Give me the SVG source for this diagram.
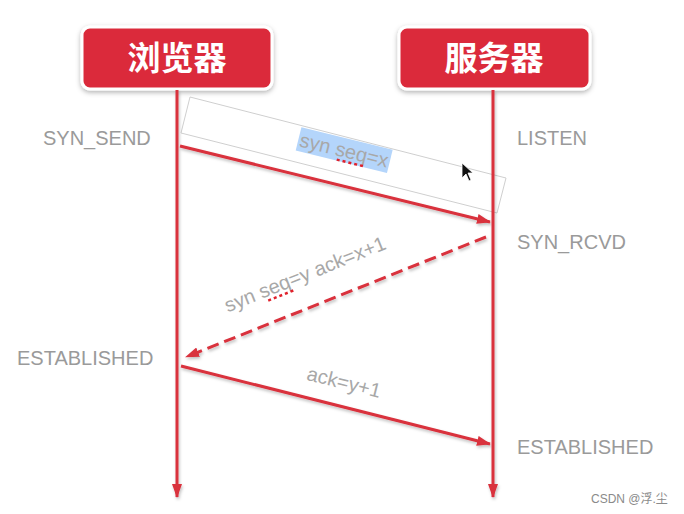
<svg xmlns="http://www.w3.org/2000/svg" width="684" height="514" viewBox="0 0 684 514">
<defs>
  <marker id="ah" viewBox="0 0 14 10" refX="13" refY="5" markerWidth="14" markerHeight="10" markerUnits="userSpaceOnUse" orient="auto">
    <path d="M0,0 L14,5 L0,10 Z" fill="#d9303c"/>
  </marker>
  <filter id="sh" filterUnits="userSpaceOnUse" x="0" y="0" width="684" height="514">
    <feDropShadow dx="1" dy="2" stdDeviation="1.5" flood-color="#000" flood-opacity="0.25"/>
  </filter>
  <filter id="bsh" x="-10%" y="-20%" width="120%" height="150%">
    <feDropShadow dx="0" dy="2" stdDeviation="2.5" flood-color="#000" flood-opacity="0.3"/>
  </filter>
</defs>
<style>
  .box { fill: #db2c3b; stroke: #ffffff; stroke-width: 3; }
  .title { font-family: "Noto Sans CJK SC", "Liberation Sans", sans-serif; font-size: 33px; font-weight: bold; fill: #ffffff; text-anchor: middle; }
  .life { stroke: #d9303c; stroke-width: 3; fill: none; }
  .msg { stroke: #d9303c; stroke-width: 3; fill: none; }
  .dash { stroke-dasharray: 12 6; }
  .state { font-family: "Liberation Sans", Arial, sans-serif; font-size: 20px; fill: #9a9a9a; }
  .lbl { font-family: "Liberation Sans", Arial, sans-serif; font-size: 20px; fill: #a8a8a8; text-anchor: middle; }
  .sq { stroke: #e0202a; stroke-width: 2.5; stroke-dasharray: 3 3; }
  .wm { font-family: "Liberation Sans", "Noto Sans CJK SC", sans-serif; font-size: 12px; fill: #8a8a8a; }
</style>
<rect width="684" height="514" fill="#ffffff"/>

<g id="browser">
  <rect class="box" x="82" y="27" width="190" height="62" rx="8" filter="url(#bsh)"/>
  <text class="title" x="177" y="70">浏览器</text>
</g>
<g id="server">
  <rect class="box" x="399" y="27" width="191" height="62" rx="8" filter="url(#bsh)"/>
  <text class="title" x="494" y="70">服务器</text>
</g>

<g id="selection">
  <polygon points="190,97 506,178 497,213 181,133" fill="none" stroke="#cfcfcf" stroke-width="1"/>
  <path d="M462,163 L462,178 L466,174 L469,181 L471,180 L468,173 L473,173 Z" fill="#111" stroke="#fff" stroke-width="0.8"/>
</g>

<g id="connectors" filter="url(#sh)">
  <line class="life" x1="177" y1="90" x2="177" y2="497" marker-end="url(#ah)"/>
  <line class="life" x1="493" y1="90" x2="493" y2="497" marker-end="url(#ah)"/>
  <line class="msg" x1="180" y1="146" x2="490" y2="222" marker-end="url(#ah)"/>
  <line class="msg dash" x1="486" y1="237" x2="186" y2="357" marker-end="url(#ah)"/>
  <line class="msg" x1="181" y1="366" x2="490" y2="444" marker-end="url(#ah)"/>
</g>

<g id="label-syn">
  <g transform="translate(343,155) rotate(13.8)">
    <rect x="-47" y="-17" width="94" height="24" fill="#b4d5fb"/>
    <text class="lbl" x="0" y="2">syn seq=x</text>
    <line class="sq" x1="-5" y1="6" x2="22" y2="6"/>
  </g>
</g>
<g id="label-synack">
  <g transform="translate(305,274) rotate(-21.8)">
    <text class="lbl" x="0" y="7">syn seq=y ack=x+1</text>
    <line class="sq" x1="-44" y1="11" x2="-17" y2="11"/>
  </g>
</g>
<g id="label-ack">
  <g transform="translate(344,382) rotate(14)">
    <text class="lbl" x="0" y="7">ack=y+1</text>
  </g>
</g>

<g id="states">
  <text class="state" x="43" y="145">SYN_SEND</text>
  <text class="state" x="517" y="145">LISTEN</text>
  <text class="state" x="517" y="249">SYN_RCVD</text>
  <text class="state" x="17" y="365">ESTABLISHED</text>
  <text class="state" x="517" y="454">ESTABLISHED</text>
</g>

<text class="wm" x="591" y="503">CSDN @浮.尘</text>
</svg>
